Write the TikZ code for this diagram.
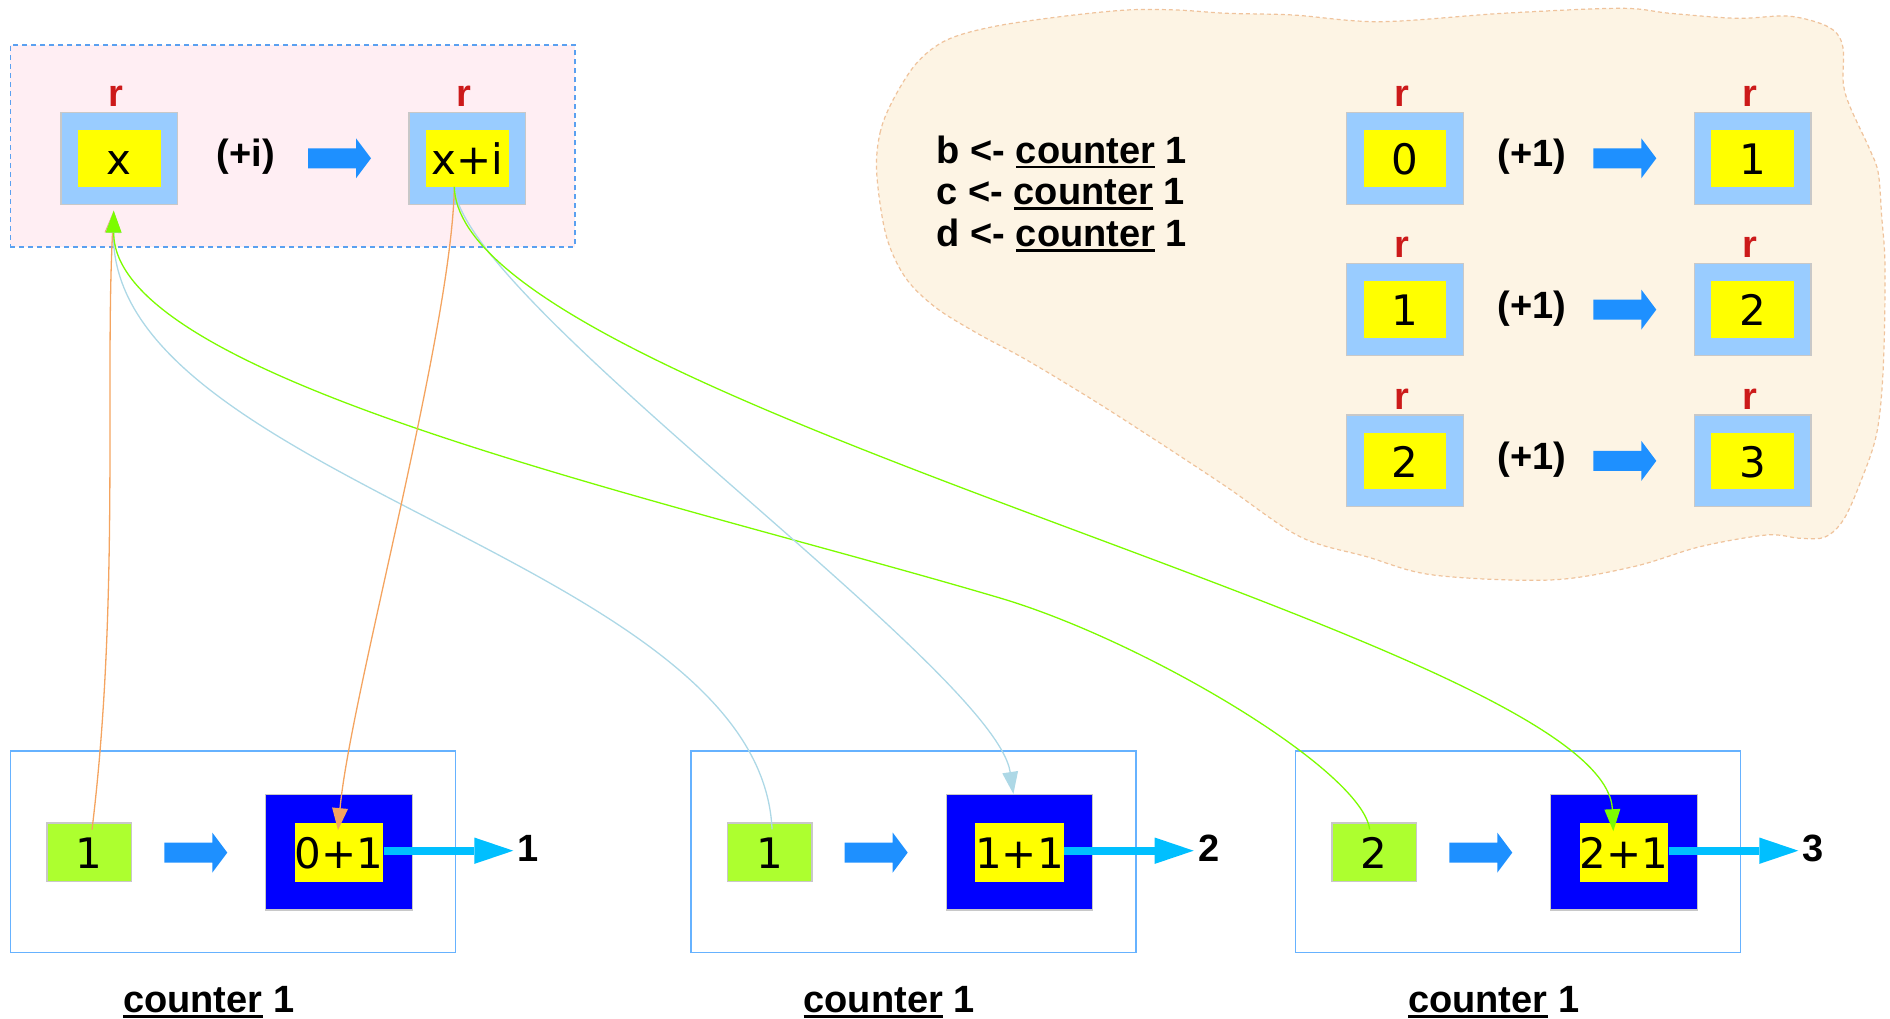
\documentclass[tikz,border=0pt]{standalone}
\usepackage{fontspec}
\setmainfont{Liberation Sans}
\newfontfamily\valfont{DejaVu Sans}
\usetikzlibrary{arrows.meta,calc}

\definecolor{pinkbg}{HTML}{FFEEF3}
\definecolor{pinkedge}{HTML}{5AA0F0}
\definecolor{creambg}{HTML}{FDF4E4}
\definecolor{creamedge}{HTML}{EFC39C}
\definecolor{cellblue}{HTML}{99CCFF}
\definecolor{cellyellow}{HTML}{FFFF00}
\definecolor{cellgrey}{HTML}{C8C8C8}
\definecolor{opblue}{HTML}{1E90FF}
\definecolor{labelred}{HTML}{CC1A1A}
\definecolor{argreen}{HTML}{ADFF2F}
\definecolor{fnblue}{HTML}{0000FF}
\definecolor{outcyan}{HTML}{00BFFF}
\definecolor{frameblue}{HTML}{66B2FF}
\definecolor{wireorange}{HTML}{F4A460}
\definecolor{wireblue}{HTML}{ADD8E6}
\definecolor{wiregreen}{HTML}{7CFC00}

% underlined word with a fixed rule below the baseline
\newcommand\ulword[1]{\setbox0=\hbox{#1}\rlap{\rule[-5pt]{\wd0}{2.5pt}}\box0\relax}

\tikzset{
  lbl/.style={font=\fontsize{38}{44}\selectfont\bfseries, inner sep=0pt, anchor=base},
  rlbl/.style={lbl, text=labelred},
  val/.style={font=\valfont\fontsize{42}{48}\selectfont, inner sep=0pt,
              text height=32.6pt, text depth=0pt},
  cellout/.style={draw=cellgrey, line width=1.2pt, fill=cellblue,
                  minimum width=116.6pt, minimum height=91.7pt, inner sep=0pt},
  cellin/.style={fill=cellyellow, minimum width=82.7pt, minimum height=56.7pt, inner sep=0pt},
  argbox/.style={draw=cellgrey, line width=1.2pt, fill=argreen,
                 minimum width=84.5pt, minimum height=58.7pt, inner sep=0pt},
  fnbox/.style={draw=cellgrey, line width=1.2pt, fill=fnblue,
                minimum width=146.6pt, minimum height=115.5pt, inner sep=0pt},
  fnin/.style={fill=cellyellow, minimum width=84pt, minimum height=58.7pt, inner sep=0pt},
  framebox/.style={draw=frameblue, line width=1.6pt,
                   minimum width=445pt, minimum height=201.8pt, inner sep=0pt},
  wire/.style={line width=1.3pt, -{Triangle[length=22pt,width=16pt,line width=0pt]}},
  outwire/.style={outcyan, line width=8pt, -{Triangle[length=39pt,width=26.4pt,line width=0pt]}},
  pics/fatarrow/.style={code={
    \fill[opblue] (0,-10) -- (48,-10) -- (48,-20) -- (63,0) -- (48,20) -- (48,10) -- (0,10) -- cycle;}}
}

\begin{document}
\begin{tikzpicture}[x=1pt,y=-1pt]
\useasboundingbox (0,0) rectangle (1890,1019);

% cloud holding the three calls of the counter
\path[fill=creambg, draw=creamedge, line width=1.2pt, dash pattern=on 4pt off 3pt]
  plot[smooth cycle, tension=0.55] coordinates {
  (876.7,173) (880,133) (893,100) (916.7,63) (946.7,40) (993,26.7) (1060,16.7)
  (1126.7,10) (1176.7,10) (1226.7,13.3) (1293,15) (1380,21.7) (1503,13.3)
  (1620,8.3) (1670,13.3) (1736.7,18.3) (1786.7,16) (1820,23.3) (1836.7,33.3)
  (1843.3,50) (1843.3,83.3) (1850,106.7) (1870,150) (1878.3,173.3) (1881.7,216.7)
  (1885,266.7) (1883.3,366.7) (1876.7,433.3) (1860,483.3) (1843.3,520) (1825,537)
  (1800,538.3) (1766.7,535) (1700,546.7) (1633.3,566.7) (1550,580) (1433.3,575)
  (1366.7,556.7) (1300,536.7) (1226.7,487) (1160,443) (1093,400) (1026.7,360)
  (976.7,333) (935,307) (905,277) (886,235)};

% generic closure r: x -> x+i
\node[draw=pinkedge, fill=pinkbg, line width=1.6pt, dash pattern=on 5pt off 4pt,
      minimum width=564.5pt, minimum height=201.7pt, inner sep=0pt] (closure) at (292.55,145.85) {};
\node[cellout] (xo) at (119.2,158.3) {};
\node[cellin,val] (xi) at (119.2,158.3) {x};
\node[cellout] (xio) at (467.2,158.3) {};
\node[cellin,val] (xii) at (467.2,158.3) {x+i};
\node[rlbl] (rx) at (116,106.7) {r};
\node[rlbl] (rxi) at (464,106.7) {r};
\node[lbl] (opi) at (246,167) {(+i)};
\pic at (308,158.3) {fatarrow};

% the three bindings and their closures
\node[lbl, anchor=base west] (lineb) at (936.5,163.3) {b <- \ulword{counter} 1};
\node[lbl, anchor=base west] (linec) at (936.5,205) {c <- \ulword{counter} 1};
\node[lbl, anchor=base west] (lined) at (936.5,246.7) {d <- \ulword{counter} 1};
\foreach \k/\u/\w in {0/0/1,1/1/2,2/2/3}{
  \node[cellout] (lo\k) at (1405,158.3+151.3*\k) {};
  \node[cellin,val] (li\k) at (1405,158.3+151.3*\k) {\u};
  \node[cellout] (ro\k) at (1752.7,158.3+151.3*\k) {};
  \node[cellin,val] (ri\k) at (1752.7,158.3+151.3*\k) {\w};
  \node[rlbl] (rl\k) at (1402,106.7+151.3*\k) {r};
  \node[rlbl] (rr\k) at (1749.5,106.7+151.3*\k) {r};
  \node[lbl] (op\k) at (1531.7,167+151.3*\k) {(+1)};
  \pic at (1593.3,158.3+151.3*\k) {fatarrow};
}

% the three evaluations of counter 1
\foreach \k/\s/\gv/\yv/\ov in {1/0/1/0+1/1, 2/680.4/1/1+1/2, 3/1285/2/2+1/3}{
  \node[framebox] (fr\k) at (233+\s,851.6) {};
  \node[argbox,val] (g\k) at (89.25+\s,852.35) {\gv};
  \pic at (164.3+\s,852.6) {fatarrow};
  \node[fnbox] (d\k) at (339+\s,852.25) {};
  \node[fnin,val] (y\k) at (339+\s,852.35) {\yv};
  \node[lbl, anchor=base west] (res\k) at (517.5+\s,861.7) {\ov};
  \node[lbl] (cnt\k) at (208.7+\s,1012.5) {\ulword{counter} 1};
  \coordinate (tip\k) at (513.3+\s,850.7);
}

% ports on the generic closure
\coordinate (xtip) at ($(xo.south)+(-5.5,6)$);
\coordinate (xisrc) at ($(xii.south)+(-12.9,0)$);

% arguments flowing up into x
\draw[wire, wireorange] ($(g1.north)+(2.75,7.3)$) .. controls (119.5,605) and (105,380) .. (xtip);
\draw[wire, wireblue] ($(g2.north)+(2.4,7)$) .. controls (760,560) and (110,480) .. (xtip);
\draw[wire, wiregreen] ($(g3.north)+(-4.6,7)$) .. controls (1362,770) and (1143.9,640.6) .. (1000,598)
   .. controls (664.4,498.6) and (113.7,380) .. (xtip);

% results flowing down from x+i
\draw[wire, wireorange] (xisrc) .. controls (452,330) and (350.6,695) .. ($(y1.north)+(-1,7.3)$);
\draw[wire, wireblue] (xisrc) .. controls (462,300) and (995,670) .. ($(d2.north)+(-6,0)$);
\draw[wire, wiregreen] (xisrc) .. controls (460,400) and (1605,640) .. ($(y3.north)+(-10.7,8.4)$);

% outputs
\foreach \k in {1,2,3}{
  \draw[outwire] (y\k.east |- tip\k) -- (tip\k);
}
\end{tikzpicture}
\end{document}
